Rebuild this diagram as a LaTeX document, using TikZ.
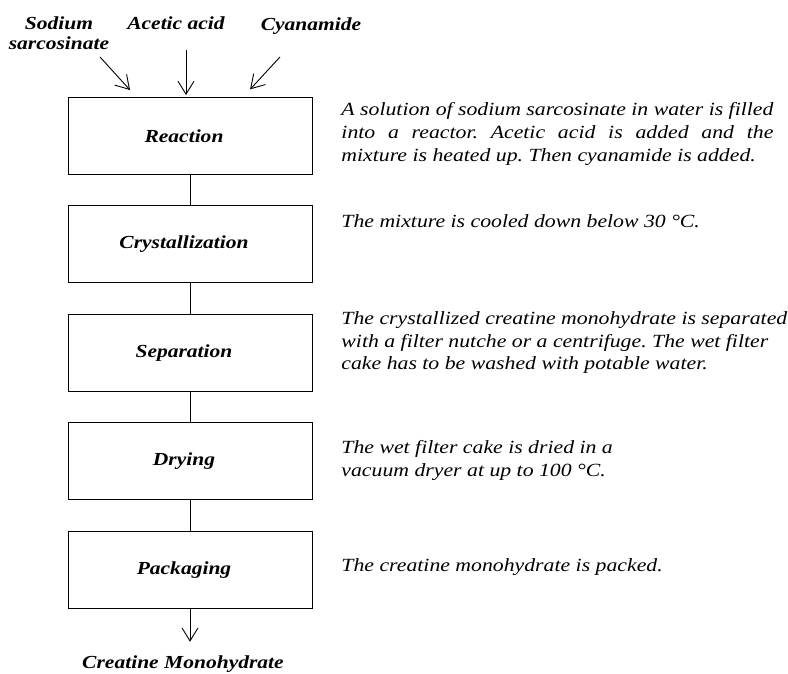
\documentclass[tikz,border=0pt]{standalone}
\usepackage{fontspec}
\setmainfont{Liberation Serif}[FakeStretch=1.17]
\usetikzlibrary{arrows.meta, positioning}

\begin{document}
\begin{tikzpicture}[x=1pt, y=-1pt, line width=0.9pt,
	stepbox/.style={draw, minimum width=244pt, minimum height=77pt, inner sep=0pt},
	stepname/.style={font=\bfseries\itshape\fontsize{18.4pt}{22pt}\selectfont, xshift=-6pt},
	feedname/.style={font=\bfseries\itshape\fontsize{18.4pt}{20pt}\selectfont, inner sep=0pt, anchor=base},
	note/.style={font=\itshape\fontsize{18.6pt}{22.7pt}\selectfont, inner sep=0pt, anchor=base west, text width=450pt, align=left,
		execute at begin node={\spaceskip=0pt\xspaceskip=0pt\frenchspacing}},
	feed/.style={-{Straight Barb[length=13pt, width=16pt]}}]
	\useasboundingbox (0,0) rectangle (788,674);

	\node [feedname, text width=110pt, align=center] (sodium) at (59,30) {Sodium\\sarcosinate};
	\node [feedname] (acid) at (176,30) {Acetic acid};
	\node [feedname] (cyanamide) at (311,31) {Cyanamide};

	\node [stepbox, label={[stepname]center:Reaction}] (reaction) at (190,136) {};
	\node [stepbox, below=30.5pt of reaction, label={[stepname]center:Crystallization}] (crystallization) {};
	\node [stepbox, below=30.5pt of crystallization, label={[stepname]center:Separation}] (separation) {};
	\node [stepbox, below=30.5pt of separation, label={[stepname]center:Drying}] (drying) {};
	\node [stepbox, below=30.5pt of drying, label={[stepname]center:Packaging}] (packaging) {};
	\node [feedname] (product) at (183,668) {Creatine Monohydrate};

	\draw (reaction) -- (crystallization);
	\draw (crystallization) -- (separation);
	\draw (separation) -- (drying);
	\draw (drying) -- (packaging);

	\coordinate (sodium-in) at (100,57);
	\coordinate (acid-in) at (186,50);
	\coordinate (cyanamide-in) at (280,57);
	\draw [feed, shorten >=9.5pt] (sodium-in) -- ([xshift=-53.6pt]reaction.north);
	\draw [feed, shorten >=2pt] (acid-in) -- (acid-in |- reaction.north);
	\draw [feed, shorten >=10.5pt] (cyanamide-in) -- ([xshift=53pt]reaction.north);
	\draw [feed, shorten >=13pt] (packaging.south) -- (packaging.south |- product.north);

	\node [note] (reaction-note) at (341,115.7) {A solution of sodium sarcosinate in water is filled\\\makebox[432pt][s]{into a reactor. Acetic acid is added and the}\\mixture is heated up. Then cyanamide is added.};
	\node [note] (crystallization-note) at (341,227.5) {The mixture is cooled down below 30 °C.};
	\node [note] (separation-note) at (341,324.5) {The crystallized creatine monohydrate is separated\\with a filter nutche or a centrifuge. The wet filter\\cake has to be washed with potable water.};
	\node [note] (drying-note) at (341,453.3) {The wet filter cake is dried in a\\vacuum dryer at up to 100 °C.};
	\node [note] (packaging-note) at (341,571.7) {The creatine monohydrate is packed.};
\end{tikzpicture}
\end{document}
